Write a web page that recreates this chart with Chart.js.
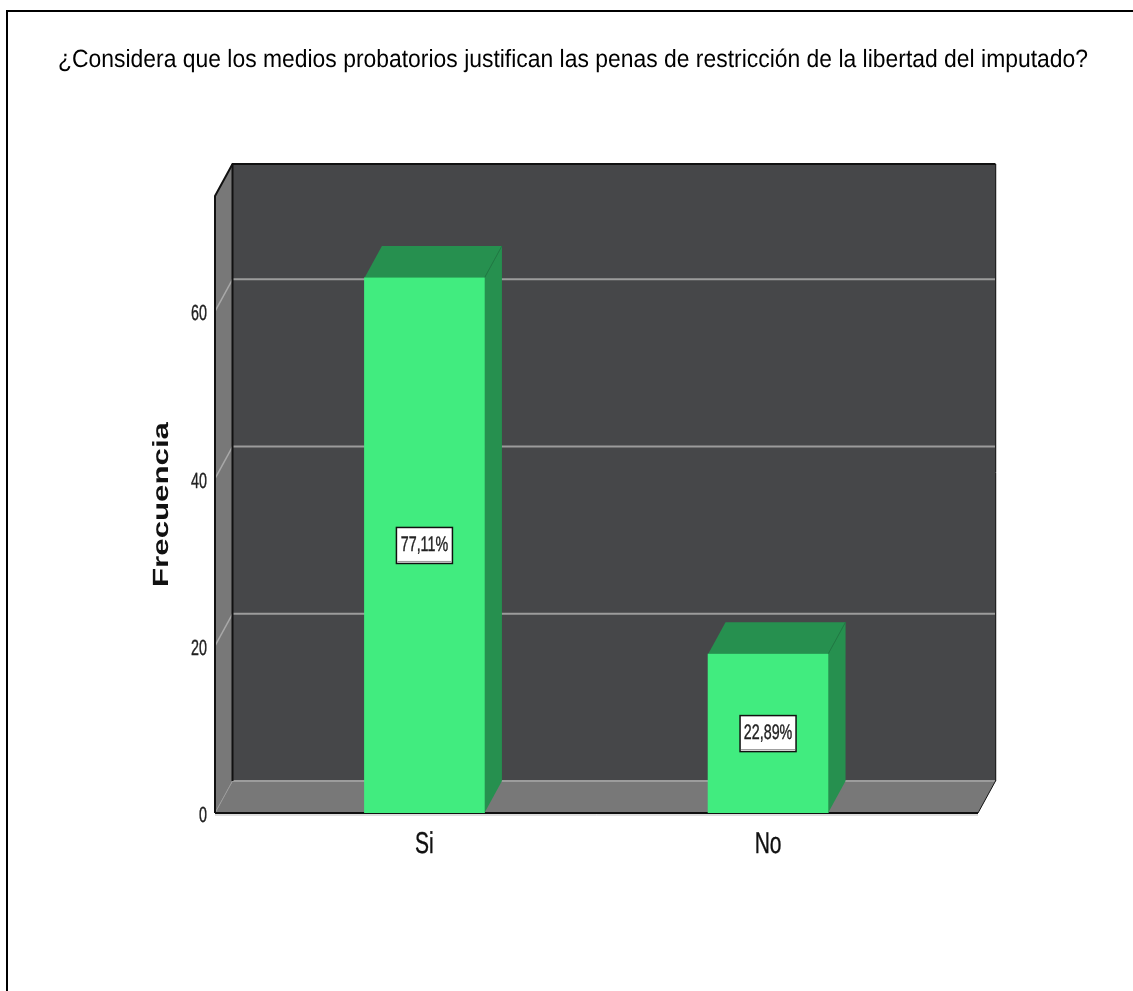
<!DOCTYPE html>
<html>
<head>
<meta charset="utf-8">
<style>
  html, body { margin: 0; padding: 0; background: #fff; overflow: hidden; }
  canvas { display: block; }
</style>
<script src="https://cdn.jsdelivr.net/npm/chart.js@4"></script>
</head>
<body>
<canvas id="chart1" width="1133" height="991"></canvas>
<script>
const chartTitle = '¿Considera que los medios probatorios justifican las penas de restricción de la libertad del imputado?';
const yAxisLabel = 'Frecuencia';
const categories = ['Si', 'No'];
const frequencies = [64, 19];
const percentLabels = ['77,11%', '22,89%'];
const yTicks = [0, 20, 40, 60];

// depth of the fake 3d box
const depthX = 17.5;
const depthY = 32;

const wallColor = '#464749';
const sideColor = '#787878';
const gridColor = '#9c9c9c';
const barColor = '#41ec7f';
const barDark = '#26904f';

function fillPoly(ctx, pts, fill) {
  ctx.beginPath();
  pts.forEach((p, i) => (i ? ctx.lineTo(p[0], p[1]) : ctx.moveTo(p[0], p[1])));
  ctx.closePath();
  ctx.fillStyle = fill;
  ctx.fill();
}

function strokeLine(ctx, pts, color, width) {
  ctx.beginPath();
  pts.forEach((p, i) => (i ? ctx.lineTo(p[0], p[1]) : ctx.moveTo(p[0], p[1])));
  ctx.strokeStyle = color;
  ctx.lineWidth = width;
  ctx.stroke();
}

// the reference text is squeezed sideways, no installed font does that
function squeezedText(ctx, text, x, y, size, squeeze, align, color) {
  ctx.save();
  ctx.translate(x, y);
  ctx.scale(squeeze, 1);
  ctx.font = size + 'px "Liberation Sans"';
  ctx.fillStyle = color;
  ctx.strokeStyle = color;
  ctx.lineWidth = 0.4;
  ctx.textAlign = align;
  ctx.textBaseline = 'middle';
  ctx.fillText(text, 0, 0);
  ctx.strokeText(text, 0, 0);
  ctx.restore();
}

const boxPlugin = {
  id: 'box3d',
  beforeDraw(chart) {
    chart.ctx.textRendering = 'geometricPrecision';
  },
  beforeDatasetsDraw(chart) {
    const ctx = chart.ctx;
    const { left, right, top, bottom } = chart.chartArea;
    const bl = left + depthX, br = right + depthX;
    const bt = top - depthY, bb = bottom - depthY;
    ctx.save();
    // back wall, left wall, floor
    fillPoly(ctx, [[bl, bt], [br, bt], [br, bb], [bl, bb]], wallColor);
    fillPoly(ctx, [[left, top], [bl, bt], [bl, bb], [left, bottom]], sideColor);
    fillPoly(ctx, [[left, bottom], [bl, bb], [br, bb], [right, bottom]], sideColor);
    // grid lines run over the side wall and along the back
    yTicks.slice(1).forEach((v) => {
      const y = chart.scales.y.getPixelForValue(v);
      strokeLine(ctx, [[left, y], [bl, y - depthY]], '#a8a8a8', 1.5);
      strokeLine(ctx, [[bl, y - depthY], [br, y - depthY]], gridColor, 2);
    });
    strokeLine(ctx, [[bl, bb], [br, bb]], gridColor, 2);
    strokeLine(ctx, [[left, bottom], [bl, bb]], '#9a9a9a', 1);
    strokeLine(ctx, [[right, bottom], [br, bb]], '#111', 1);
    strokeLine(ctx, [[br + 1, bt], [br + 1, bb]], '#c8c8c8', 1);
    strokeLine(ctx, [[br, bt], [br, bb]], '#222', 1);
    strokeLine(ctx, [[bl, bt], [bl, bb]], '#111', 2);
    strokeLine(ctx, [[left, bottom], [left, top], [bl, bt], [br, bt]], '#111', 2);
    strokeLine(ctx, [[left, bottom + 2], [right, bottom + 2]], '#bdbdbd', 1);
    strokeLine(ctx, [[left, bottom], [right, bottom]], '#111', 2);
    // top and side of each bar
    chart.getDatasetMeta(0).data.forEach((bar) => {
      const l = bar.x - bar.width / 2, r = bar.x + bar.width / 2;
      fillPoly(ctx, [[l, bar.y], [l + depthX, bar.y - depthY], [r + depthX, bar.y - depthY], [r, bar.y]], barDark);
      fillPoly(ctx, [[r, bar.y], [r + depthX, bar.y - depthY], [r + depthX, bar.base - depthY], [r, bar.base]], barDark);
      strokeLine(ctx, [[l, bar.y], [r, bar.y], [r + depthX, bar.y - depthY]], '#1f7a43', 1);
      strokeLine(ctx, [[r, bar.y], [r, bar.base]], '#1f7a43', 1);
    });
    ctx.restore();
  },
  afterDatasetsDraw(chart) {
    const ctx = chart.ctx;
    ctx.save();
    // value boxes in the middle of each bar
    chart.getDatasetMeta(0).data.forEach((bar, i) => {
      const cy = (bar.y + bar.base) / 2;
      ctx.fillStyle = '#fff';
      ctx.fillRect(bar.x - 28, cy - 18, 56, 36);
      ctx.strokeStyle = '#111';
      ctx.lineWidth = 1.5;
      ctx.strokeRect(bar.x - 28, cy - 18, 56, 36);
      strokeLine(ctx, [[bar.x - 27, cy + 16], [bar.x + 27, cy + 16]], '#999', 1);
      squeezedText(ctx, percentLabels[i], bar.x, cy, 21, 0.68, 'center', '#222');
    });
    // tick labels, placed by the axes
    chart.scales.y.ticks.forEach((t) => {
      squeezedText(ctx, String(t.value), 207, chart.scales.y.getPixelForValue(t.value) + 3, 22, 0.65, 'right', '#222');
    });
    chart.scales.x.ticks.forEach((t) => {
      squeezedText(ctx, categories[t.value], chart.scales.x.getPixelForValue(t.value), 845, 30, 0.7, 'center', '#111');
    });
    // stretched axis title
    ctx.translate(162, 504.5);
    ctx.rotate(-Math.PI / 2);
    ctx.scale(1.42, 1);
    ctx.fillStyle = '#111';
    ctx.font = 'bold 22px "Liberation Sans"';
    ctx.textAlign = 'center';
    ctx.textBaseline = 'middle';
    ctx.fillText(yAxisLabel, 0, 0);
    ctx.restore();
  },
  afterDraw(chart) {
    const ctx = chart.ctx;
    ctx.save();
    strokeLine(ctx, [[7, 991], [7, 11], [1133, 11]], '#000', 2);
    ctx.restore();
  },
};

const chart1 = new Chart(document.getElementById('chart1').getContext('2d'), {
  type: 'bar',
  data: {
    datasets: [{
      data: categories.map((c, i) => ({ x: i, y: frequencies[i] })),
      backgroundColor: barColor,
      barThickness: 120,
    }],
  },
  options: {
    responsive: false,
    animation: false,
    // title is fitted to the box between the paddings, 1030 wide
    layout: { padding: { left: 58, right: 45, top: 0, bottom: 0 } },
    plugins: {
      legend: { display: false },
      tooltip: { enabled: false },
      title: {
        display: true,
        text: chartTitle,
        align: 'start',
        color: '#000',
        font: { family: '"Liberation Sans"', size: 25, weight: 'normal', lineHeight: 1.2 },
        padding: { top: 45, bottom: 121 },
      },
    },
    scales: {
      x: {
        type: 'linear',
        offset: false,
        min: -0.6095,
        max: 1.611,
        grid: { display: false, drawTicks: false },
        border: { display: false },
        afterBuildTicks: (axis) => { axis.ticks = categories.map((c, i) => ({ value: i })); },
        afterFit: (axis) => { axis.height = 178; },
        ticks: { display: false },
      },
      y: {
        min: 0,
        max: 73.8,
        grid: { display: false, drawTicks: false },
        border: { display: false },
        afterBuildTicks: (axis) => { axis.ticks = yTicks.map((v) => ({ value: v })); },
        afterFit: (axis) => { axis.width = 157; },
        ticks: { display: false },
      },
      // empty axis, only holds the space right of the floor
      spacer: {
        position: 'right',
        min: 0,
        max: 73.8,
        grid: { display: false, drawTicks: false },
        border: { display: false },
        afterFit: (axis) => { axis.width = 110; },
        ticks: { display: false },
      },
    },
  },
  plugins: [boxPlugin],
});
</script>
</body>
</html>
